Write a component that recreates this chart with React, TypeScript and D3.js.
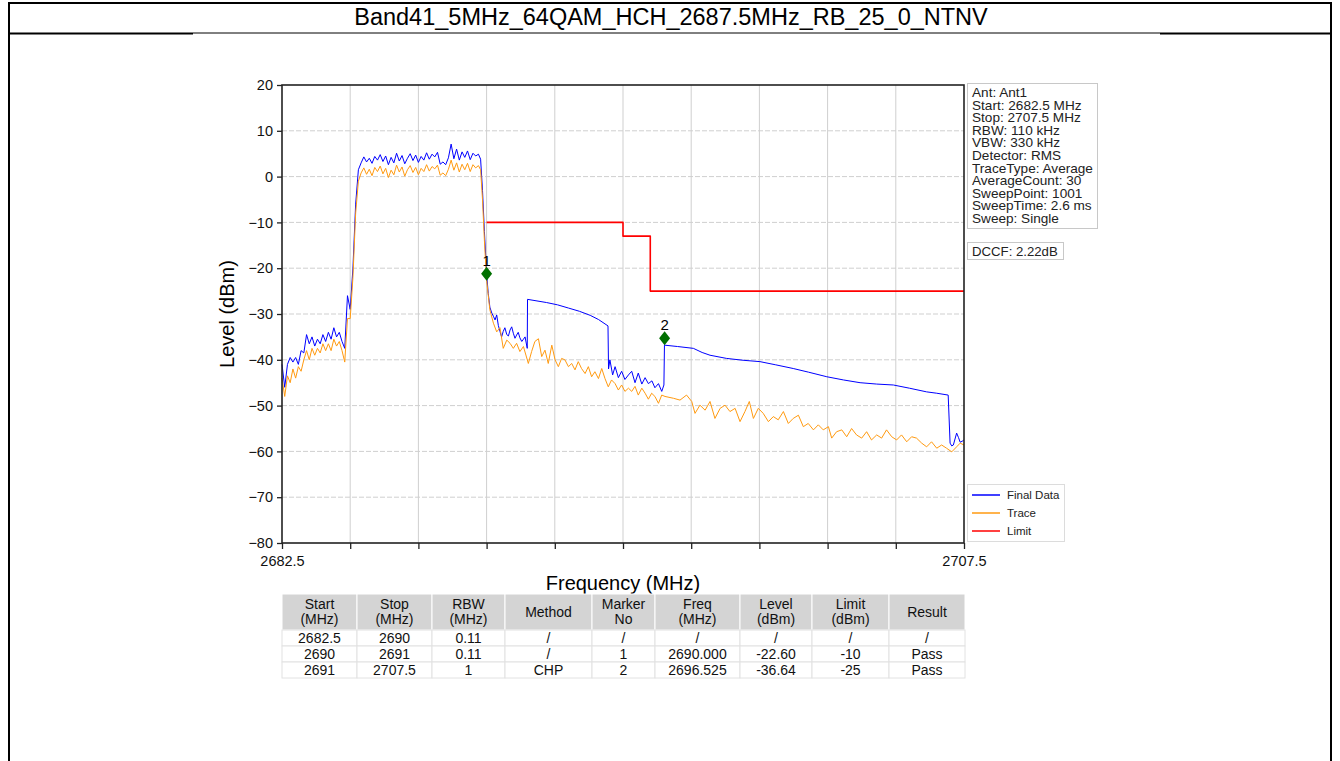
import React, { useEffect, useRef } from 'react';
import * as d3 from 'd3';

const TITLE = 'Band41_5MHz_64QAM_HCH_2687.5MHz_RB_25_0_NTNV';

const xTicks = [2682.5, 2685, 2687.5, 2690, 2692.5, 2695, 2697.5, 2700, 2702.5, 2705, 2707.5];
const yTicks = [20, 10, 0, -10, -20, -30, -40, -50, -60, -70, -80];

// Final Data trace, [MHz, dBm]
const finalData: [number, number][] = [
  [2682.5, -41], [2682.6, -46], [2682.7, -41], [2682.8, -39.5], [2682.9, -40.5], [2683.0, -39.5], [2683.1, -41],
  [2683.2, -38], [2683.3, -38.5], [2683.4, -34.5], [2683.5, -36.5], [2683.6, -35], [2683.7, -37], [2683.8, -35.5],
  [2683.9, -36.5], [2684.0, -34.5], [2684.1, -36], [2684.2, -34], [2684.3, -35.5], [2684.4, -33], [2684.5, -35],
  [2684.6, -34], [2684.7, -36], [2684.8, -37.5], [2684.9, -26], [2685.0, -29], [2685.1, -20], [2685.2, -6], [2685.3, 1.5],
  [2685.4, 3.0], [2685.5, 4.3], [2685.6, 3.2], [2685.7, 4.0], [2685.8, 2.9], [2685.9, 4.4], [2686.0, 3.6], [2686.1, 4.8],
  [2686.2, 3.3], [2686.3, 4.5], [2686.4, 2.6], [2686.5, 4.2], [2686.6, 3.0], [2686.7, 5.1], [2686.8, 3.4], [2686.9, 4.6],
  [2687.0, 2.8], [2687.1, 4.0], [2687.2, 5.0], [2687.3, 3.5], [2687.4, 4.7], [2687.5, 3.1], [2687.6, 4.4], [2687.7, 3.6],
  [2687.8, 5.2], [2687.9, 3.8], [2688.0, 4.9], [2688.1, 4.3], [2688.2, 5.3], [2688.3, 2.7], [2688.4, 3.2], [2688.5, 2.6],
  [2688.6, 4.1], [2688.7, 7.1], [2688.8, 3.9], [2688.9, 6.0], [2689.0, 3.6], [2689.1, 5.4], [2689.2, 4.2], [2689.3, 5.6],
  [2689.4, 3.7], [2689.5, 5.1], [2689.6, 4.5], [2689.7, 4.9], [2689.78, 3.8], [2689.85, -3], [2689.92, -12], [2690.0, -21.2],
  [2690.06, -25.5], [2690.12, -28.5], [2690.19, -29.8], [2690.25, -30.5], [2690.31, -31.3], [2690.37, -30.2], [2690.43, -32.5],
  [2690.49, -33.8], [2690.55, -35], [2690.61, -33.8], [2690.67, -33], [2690.74, -34.5], [2690.8, -34.8], [2690.86, -33.5],
  [2690.92, -32.8], [2690.98, -34.2], [2691.04, -35.3], [2691.1, -34.6], [2691.16, -34], [2691.22, -35.2], [2691.29, -36],
  [2691.35, -35.5], [2691.41, -35], [2691.49, -37.5],
  [2691.5, -26.8], [2692.2, -27.5], [2692.6, -28.0], [2693.0, -28.7], [2693.4, -29.4], [2693.8, -30.3], [2694.1, -31.2], [2694.45, -32.6],
  [2694.47, -42], [2694.52, -40], [2694.62, -43.3], [2694.71, -41.5], [2694.83, -43.9], [2694.95, -42.5], [2695.07, -44.3],
  [2695.2, -43.3], [2695.32, -42.5], [2695.44, -45], [2695.56, -42.9], [2695.69, -45.3], [2695.81, -43.9], [2695.93, -45.2],
  [2696.06, -44.6], [2696.17, -46.1], [2696.3, -45.2], [2696.42, -46.9], [2696.5, -45.5],
  [2696.52, -36.8], [2697.0, -37.1], [2697.58, -37.5], [2697.9, -38.4], [2698.19, -39], [2698.8, -39.7], [2699.4, -40.1],
  [2700.02, -40.4], [2700.6, -41.1], [2701.24, -41.9], [2701.8, -42.7], [2702.47, -43.7], [2703.08, -44.4], [2703.69, -45],
  [2704.3, -45.3], [2704.91, -45.5], [2705.5, -46.2], [2706.13, -47], [2706.5, -47.3], [2706.92, -47.7],
  [2706.99, -58.2], [2707.05, -58.8], [2707.11, -58.6], [2707.23, -56], [2707.3, -57], [2707.36, -58], [2707.43, -57.8], [2707.5, -57.5],
];

// Trace, [MHz, dBm]
const traceData: [number, number][] = [
  [2682.5, -44], [2682.6, -48], [2682.7, -43.5], [2682.8, -45], [2682.9, -42], [2683.0, -44], [2683.1, -41.5],
  [2683.2, -42.5], [2683.3, -40], [2683.4, -38], [2683.5, -40], [2683.6, -37.5], [2683.7, -39], [2683.8, -37.5],
  [2683.9, -38.5], [2684.0, -36.5], [2684.1, -38], [2684.2, -36.5], [2684.3, -38], [2684.4, -35.5], [2684.5, -37],
  [2684.6, -36], [2684.7, -38], [2684.8, -40.5], [2684.9, -31], [2685.0, -31], [2685.1, -22], [2685.2, -8], [2685.3, -1],
  [2685.4, 0.8], [2685.5, 1.9], [2685.6, 0.5], [2685.7, 1.6], [2685.8, 0.2], [2685.9, 2.0], [2686.0, 1.1], [2686.1, 2.3],
  [2686.2, 0.6], [2686.3, 1.8], [2686.4, -0.2], [2686.5, 1.4], [2686.6, 0.4], [2686.7, 2.5], [2686.8, 1.0], [2686.9, 2.1],
  [2687.0, 0.1], [2687.1, 1.5], [2687.2, 2.4], [2687.3, 0.9], [2687.4, 2.0], [2687.5, 0.4], [2687.6, 1.8], [2687.7, 1.1],
  [2687.8, 2.6], [2687.9, 1.2], [2688.0, 2.2], [2688.1, 1.7], [2688.2, 2.5], [2688.3, 0.3], [2688.4, 0.8], [2688.5, 0.2],
  [2688.6, 1.6], [2688.7, 3.6], [2688.8, 1.4], [2688.9, 3.0], [2689.0, 1.0], [2689.1, 2.7], [2689.2, 1.5], [2689.3, 2.9],
  [2689.4, 1.1], [2689.5, 2.6], [2689.6, 1.9], [2689.7, 2.4], [2689.78, 1.5], [2689.85, -5], [2689.92, -14], [2690.0, -22.6],
  [2690.12, -29.1], [2690.25, -32], [2690.37, -33.9], [2690.49, -33], [2690.61, -37.5], [2690.74, -35.7], [2690.86, -36.4],
  [2690.98, -37.5], [2691.1, -36.4], [2691.22, -38.2], [2691.35, -37.1], [2691.53, -40.8], [2691.65, -38.2], [2691.77, -36],
  [2691.9, -35.4], [2692.02, -39.3], [2692.14, -37.9], [2692.26, -40.8], [2692.39, -36.8], [2692.51, -40], [2692.63, -41.5],
  [2692.75, -39.7], [2692.87, -40], [2693.0, -41.5], [2693.12, -40.8], [2693.24, -42.2], [2693.36, -40.4], [2693.48, -41.9],
  [2693.61, -43], [2693.73, -41.5], [2693.85, -43.7], [2693.97, -42.6], [2694.1, -44.1], [2694.22, -41.9], [2694.34, -44.1],
  [2694.46, -45.9], [2694.58, -44.4], [2694.71, -45.2], [2694.83, -46.6], [2694.95, -45.5], [2695.07, -46.9], [2695.2, -46.2],
  [2695.32, -46.9], [2695.44, -45.8], [2695.56, -47.7], [2695.69, -46.2], [2695.81, -47.3], [2695.93, -48.6], [2696.05, -47.3],
  [2696.17, -48], [2696.3, -49.5], [2696.42, -47.7], [2696.54, -48], [2696.85, -48.4], [2697.09, -48.8], [2697.33, -47.7],
  [2697.52, -49.1], [2697.64, -51.7], [2697.82, -49.9], [2698.01, -51], [2698.19, -49.1], [2698.37, -52.8], [2698.56, -50.6],
  [2698.74, -49.9], [2698.92, -51.3], [2699.11, -50.6], [2699.29, -53.5], [2699.47, -51.3], [2699.63, -49.1], [2699.78, -52.8],
  [2699.96, -50.6], [2700.14, -51.7], [2700.33, -53.5], [2700.51, -52.4], [2700.69, -53.1], [2700.88, -51.3], [2701.06, -53.9],
  [2701.24, -52.8], [2701.43, -52.1], [2701.61, -54.6], [2701.79, -53.9], [2701.98, -55.3], [2702.16, -54.2], [2702.34, -55.3],
  [2702.53, -54.6], [2702.65, -57.1], [2702.83, -55.7], [2703.02, -55.3], [2703.2, -56.8], [2703.38, -55], [2703.56, -56.4],
  [2703.75, -57.1], [2703.93, -55.7], [2704.11, -57.5], [2704.3, -56.4], [2704.48, -57.1], [2704.66, -55.3], [2704.85, -56.8],
  [2705.03, -57.5], [2705.21, -56.4], [2705.4, -57.9], [2705.58, -56.8], [2705.76, -57.1], [2705.95, -58.2], [2706.13, -59],
  [2706.31, -57.9], [2706.5, -59.3], [2706.68, -58.6], [2706.86, -59.3], [2707.05, -60.1], [2707.23, -59], [2707.36, -58.2],
  [2707.5, -58.6],
];

const limitData: [number, number][] = [
  [2690, -10], [2695, -10], [2695, -13], [2696, -13], [2696, -25], [2707.5, -25],
];

const markers = [
  { no: '1', freq: 2690.0, level: -21.2 },
  { no: '2', freq: 2696.525, level: -35.3 },
];

const infoLines = [
  'Ant: Ant1', 'Start: 2682.5 MHz', 'Stop: 2707.5 MHz', 'RBW: 110 kHz', 'VBW: 330 kHz', 'Detector: RMS',
  'TraceType: Average', 'AverageCount: 30', 'SweepPoint: 1001', 'SweepTime: 2.6 ms', 'Sweep: Single',
];
const dccfText = 'DCCF: 2.22dB';

const legendItems = [
  { label: 'Final Data', color: '#0000ff' },
  { label: 'Trace', color: '#ff9a10' },
  { label: 'Limit', color: '#ff0000' },
];

const tableHeader = [
  ['Start', '(MHz)'], ['Stop', '(MHz)'], ['RBW', '(MHz)'], ['Method'], ['Marker', 'No'],
  ['Freq', '(MHz)'], ['Level', '(dBm)'], ['Limit', '(dBm)'], ['Result'],
];
const tableRows = [
  ['2682.5', '2690', '0.11', '/', '/', '/', '/', '/', '/'],
  ['2690', '2691', '0.11', '/', '1', '2690.000', '-22.60', '-10', 'Pass'],
  ['2691', '2707.5', '1', 'CHP', '2', '2696.525', '-36.64', '-25', 'Pass'],
];

const W = 1340;
const H = 761;
const P = { left: 282, right: 964, top: 85, bottom: 543 };
const colEdges = [282, 357, 432, 505, 592, 655, 740, 812, 889, 965];
const FONT = "'Liberation Sans', Arial, sans-serif";

const App: React.FC = () => {
  const ref = useRef<SVGSVGElement>(null);

  useEffect(() => {
    const svg = d3.select(ref.current);
    svg.selectAll('*').remove();
    svg.append('rect').attr('width', W).attr('height', H).attr('fill', '#fff');

    // page frame + title cell
    const frame = svg.append('g').attr('stroke', '#000').attr('fill', 'none');
    frame.append('line').attr('x1', 9).attr('x2', 1332).attr('y1', 3).attr('y2', 3).attr('stroke-width', 2);
    frame.append('line').attr('x1', 9).attr('x2', 9).attr('y1', 2).attr('y2', H).attr('stroke-width', 2);
    frame.append('line').attr('x1', 1331).attr('x2', 1331).attr('y1', 2).attr('y2', H).attr('stroke-width', 2);
    frame.append('line').attr('x1', 9).attr('x2', 193).attr('y1', 33.5).attr('y2', 33.5).attr('stroke-width', 2);
    frame.append('line').attr('x1', 1160).attr('x2', 1332).attr('y1', 33.5).attr('y2', 33.5).attr('stroke-width', 2);
    frame.append('line').attr('x1', 193).attr('x2', 1160).attr('y1', 33).attr('y2', 33).attr('stroke-width', 1);
    svg.append('text').attr('x', 671).attr('y', 25).attr('text-anchor', 'middle')
      .attr('font-family', FONT).attr('font-size', 23.5).text(TITLE);

    const x = d3.scaleLinear().domain([2682.5, 2707.5]).range([P.left, P.right]);
    const y = d3.scaleLinear().domain([-80, 20]).range([P.bottom, P.top]);

    // grid
    const grid = svg.append('g').attr('stroke', '#cfcfcf').attr('stroke-width', 1);
    grid.selectAll('.gx').data(xTicks.slice(1, -1)).join('line')
      .attr('x1', (d) => x(d)).attr('x2', (d) => x(d)).attr('y1', P.top).attr('y2', P.bottom);
    grid.selectAll('.gy').data(yTicks.slice(1, -1)).join('line')
      .attr('x1', P.left).attr('x2', P.right).attr('y1', (d) => y(d)).attr('y2', (d) => y(d))
      .attr('stroke-dasharray', '5,2');

    const line = d3.line<[number, number]>().x((d) => x(d[0])).y((d) => y(d[1]));
    const plot = svg.append('g').attr('fill', 'none').attr('stroke-linejoin', 'round');
    plot.append('path').datum(finalData).attr('d', line).attr('stroke', legendItems[0].color).attr('stroke-width', 1);
    plot.append('path').datum(traceData).attr('d', line).attr('stroke', legendItems[1].color).attr('stroke-width', 1);
    plot.append('path').datum(limitData).attr('d', line).attr('stroke', legendItems[2].color).attr('stroke-width', 1.6);

    // markers
    const mk = svg.append('g');
    mk.selectAll('path').data(markers).join('path')
      .attr('transform', (d) => `translate(${x(d.freq)},${y(d.level)})`)
      .attr('d', 'M0,-7L5.5,0L0,7L-5.5,0Z').attr('fill', '#007000');
    mk.selectAll('text').data(markers).join('text')
      .attr('x', (d) => x(d.freq)).attr('y', (d) => y(d.level) - 8)
      .attr('text-anchor', 'middle').attr('font-family', FONT).attr('font-size', 15).text((d) => d.no);

    // spines
    svg.append('rect').attr('x', P.left).attr('y', P.top).attr('width', P.right - P.left).attr('height', P.bottom - P.top)
      .attr('fill', 'none').attr('stroke', '#222').attr('stroke-width', 1.6);

    // axes
    const xAxis = svg.append('g').attr('transform', `translate(0,${P.bottom})`)
      .call(d3.axisBottom(x).tickValues(xTicks).tickSize(6).tickPadding(7)
        .tickFormat((d, i) => (i === 0 || i === xTicks.length - 1 ? String(d) : '')));
    const yAxis = svg.append('g').attr('transform', `translate(${P.left},0)`)
      .call(d3.axisLeft(y).tickValues(yTicks).tickSize(5).tickPadding(4)
        .tickFormat((d) => String(d).replace('-', '\u2212')));
    [xAxis, yAxis].forEach((a) => {
      a.select('.domain').remove();
      a.selectAll('line').attr('stroke', '#222').attr('stroke-width', 1.3);
      a.selectAll('text').attr('font-family', FONT).attr('font-size', 14.5).attr('fill', '#111');
    });

    svg.append('text').attr('x', (P.left + P.right) / 2).attr('y', 590).attr('text-anchor', 'middle')
      .attr('font-family', FONT).attr('font-size', 20).text('Frequency (MHz)');
    svg.append('text').attr('transform', `translate(234,${(P.top + P.bottom) / 2}) rotate(-90)`)
      .attr('text-anchor', 'middle').attr('font-family', FONT).attr('font-size', 20).text('Level (dBm)');

    // info box
    svg.append('rect').attr('x', 967.5).attr('y', 83.5).attr('width', 130).attr('height', 145)
      .attr('fill', '#fff').attr('stroke', '#c8c8c8');
    svg.append('g').selectAll('text').data(infoLines).join('text')
      .attr('x', 972).attr('y', (_, i) => 97 + i * 12.6)
      .attr('font-family', FONT).attr('font-size', 13.6).attr('fill', '#222').text((d) => d);
    svg.append('rect').attr('x', 967.5).attr('y', 242.5).attr('width', 96).attr('height', 17)
      .attr('fill', '#fff').attr('stroke', '#c8c8c8');
    svg.append('text').attr('x', 972).attr('y', 256).attr('font-family', FONT).attr('font-size', 13.2)
      .attr('fill', '#222').text(dccfText);

    // legend
    svg.append('rect').attr('x', 967.5).attr('y', 484.5).attr('width', 97).attr('height', 57)
      .attr('fill', '#fff').attr('stroke', '#dcdcdc');
    const lg = svg.append('g').selectAll('g').data(legendItems).join('g')
      .attr('transform', (_, i) => `translate(972,${495 + i * 18})`);
    lg.append('line').attr('x1', 0).attr('x2', 28).attr('stroke', (d) => d.color).attr('stroke-width', 1.5);
    lg.append('text').attr('x', 35).attr('y', 4).attr('font-family', FONT).attr('font-size', 11.5)
      .attr('fill', '#222').text((d) => d.label);

    // table
    const tb = svg.append('g').attr('font-family', FONT).attr('font-size', 14).attr('fill', '#111');
    const headTop = 594;
    const headBottom = 630;
    const rowH = 16;
    tableHeader.forEach((h, c) => {
      const x0 = colEdges[c];
      const x1 = colEdges[c + 1];
      tb.append('rect').attr('x', x0).attr('y', headTop).attr('width', x1 - x0).attr('height', headBottom - headTop)
        .attr('fill', '#d4d4d4').attr('stroke', '#fff').attr('stroke-width', 1);
      const cx = (x0 + x1) / 2;
      if (h.length === 2) {
        tb.append('text').attr('x', cx).attr('y', 609).attr('text-anchor', 'middle').text(h[0]);
        tb.append('text').attr('x', cx).attr('y', 624).attr('text-anchor', 'middle').text(h[1]);
      } else {
        tb.append('text').attr('x', cx).attr('y', 616.5).attr('text-anchor', 'middle').text(h[0]);
      }
    });
    tableRows.forEach((row, r) => {
      const top = headBottom + r * rowH;
      row.forEach((cell, c) => {
        const x0 = colEdges[c];
        const x1 = colEdges[c + 1];
        tb.append('rect').attr('x', x0).attr('y', top).attr('width', x1 - x0).attr('height', rowH)
          .attr('fill', '#fff').attr('stroke', '#e2e2e2').attr('stroke-width', 1);
        tb.append('text').attr('x', (x0 + x1) / 2).attr('y', top + 12.5).attr('text-anchor', 'middle').text(cell);
      });
    });
  }, []);

  return (
    <svg ref={ref} width={W} height={H} style={{ position: 'absolute', left: 0, top: 0 }} />
  );
};

export default App;
